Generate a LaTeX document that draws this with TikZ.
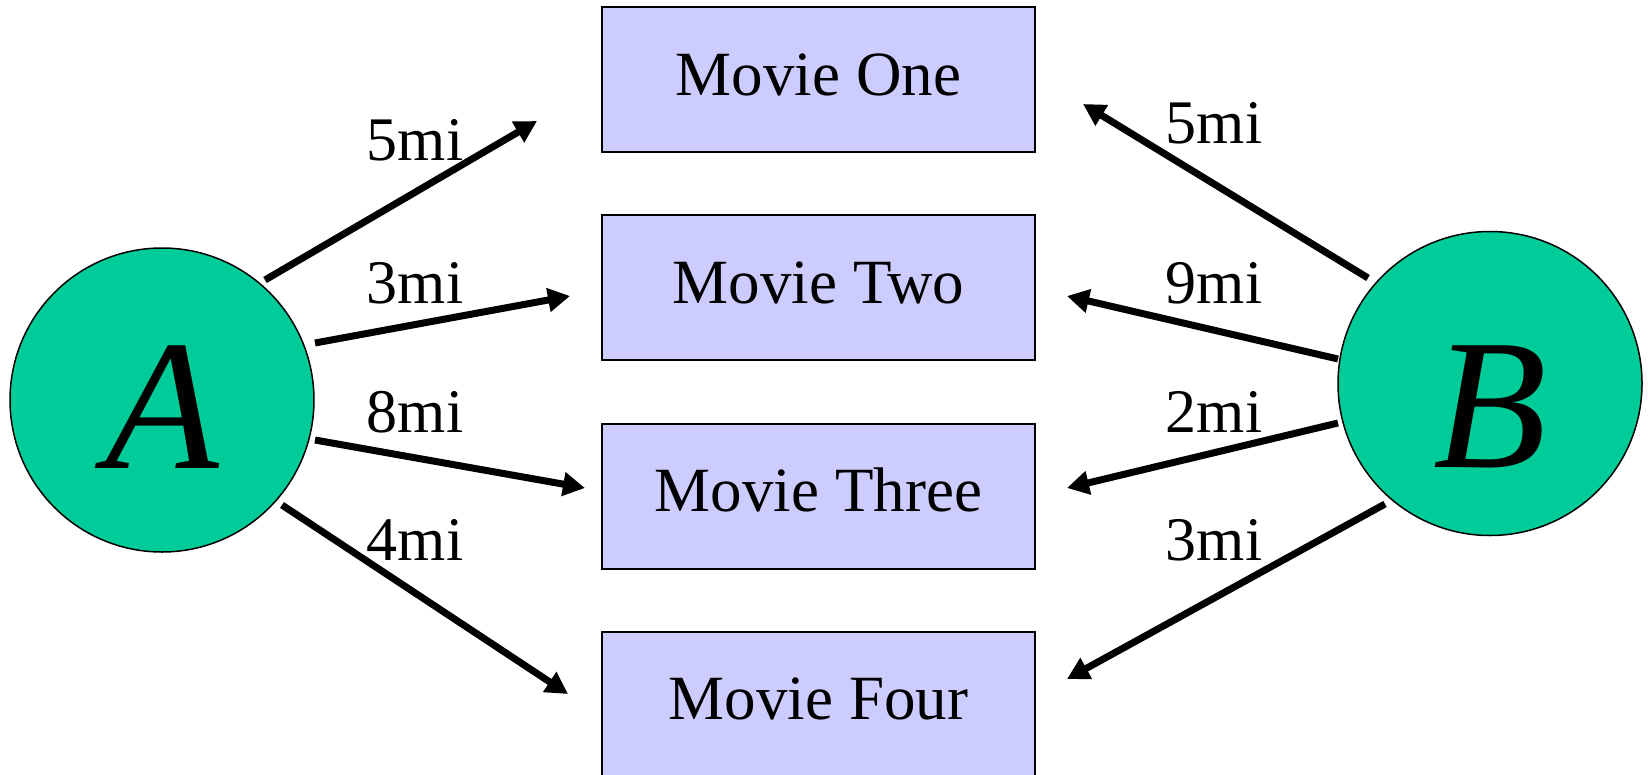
\documentclass[tikz,border=0pt]{standalone}
\usepackage{fontspec}
\setmainfont{Liberation Serif}
\usetikzlibrary{arrows.meta}
\definecolor{circfill}{RGB}{0,204,153}
\definecolor{boxfill}{RGB}{204,204,255}
\begin{document}
\begin{tikzpicture}[x=1pt,y=-1pt,
  moviebox/.style={draw=black,line width=2pt,fill=boxfill,minimum width=433pt,minimum height=145pt,
    inner sep=0pt,text height=45pt,text depth=14pt,font=\fontsize{63}{70}\selectfont},
  person/.style={circle,draw=black,line width=1.5pt,fill=circfill,minimum size=304pt,inner sep=0pt,
    text depth=0pt,font=\fontsize{186}{200}\selectfont\itshape},
  dist/.style={anchor=base,inner sep=0pt,font=\fontsize{62}{70}\selectfont},
  link/.style={line width=7pt,-{Triangle[length=22pt,width=23pt]}}]
\useasboundingbox (0,0) rectangle (1649,774);
% boxes
\node[moviebox] (m1) at (818.5,79.5) {Movie One};
\node[moviebox] (m2) at (818.5,287.8) {Movie Two};
\node[moviebox] (m3) at (818.5,496.1) {Movie Three};
\node[moviebox] (m4) at (818.5,704.4) {Movie Four};
% persons
\node[person,text height=136pt] (A) at (162,400) {A};
\node[person,text height=167pt] (B) at (1490,383.5) {B};
% arrow ends
\coordinate (a1) at (265,280); \coordinate (t1) at (537,121);
\coordinate (a2) at (315,343); \coordinate (t2) at (570,296);
\coordinate (a3) at (315,440); \coordinate (t3) at (585,488);
\coordinate (a4) at (282,505); \coordinate (t4) at (568,694);
\coordinate (b1) at (1368,278); \coordinate (u1) at (1083,104);
\coordinate (b2) at (1338,359); \coordinate (u2) at (1067,296);
\coordinate (b3) at (1338,423); \coordinate (u3) at (1067,488);
\coordinate (b4) at (1385,504); \coordinate (u4) at (1067,679);
\draw[link] (a1) -- (t1);
\draw[link] (a2) -- (t2);
\draw[link] (a3) -- (t3);
\draw[link] (a4) -- (t4);
\draw[link] (b1) -- (u1);
\draw[link] (b2) -- (u2);
\draw[link] (b3) -- (u3);
\draw[link] (b4) -- (u4);
% labels
\node[dist] (la1) at (415,160) {5mi};
\node[dist] (la2) at (415,303) {3mi};
\node[dist] (la3) at (415,432) {8mi};
\node[dist] (la4) at (415,560) {4mi};
\node[dist] (lb1) at (1214,143) {5mi};
\node[dist] (lb2) at (1214,303) {9mi};
\node[dist] (lb3) at (1214,432) {2mi};
\node[dist] (lb4) at (1214,560) {3mi};
\end{tikzpicture}
\end{document}
